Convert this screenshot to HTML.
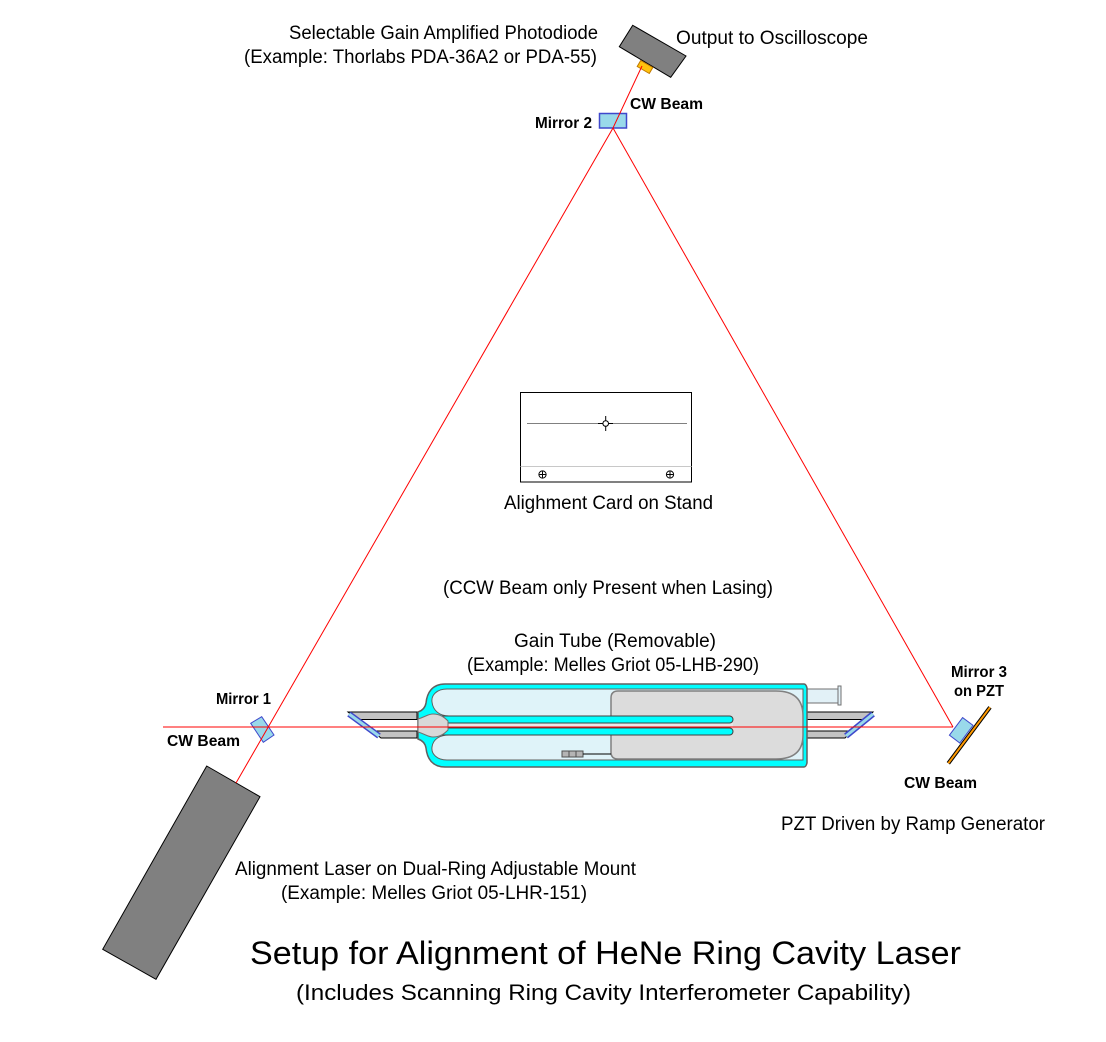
<!DOCTYPE html>
<html>
<head>
<meta charset="utf-8">
<style>
  html,body{margin:0;padding:0;background:#fff;}
  svg{display:block;}
  text{font-family:"Liberation Sans",Arial,sans-serif;fill:#000;}
  .r{font-size:19px;}
  .b{font-size:15.5px;font-weight:bold;}
</style>
</head>
<body>
<svg width="1106" height="1042" viewBox="0 0 1106 1042" xmlns="http://www.w3.org/2000/svg">
  <rect x="0" y="0" width="1106" height="1042" fill="#fff"/>

  <!-- Photodiode -->
  <polygon points="632.7,25.3 686,56 670.7,77.3 619.3,46.7" fill="#808080" stroke="#000" stroke-width="1"/>
  <polygon points="640.7,60.5 652.8,67.5 649.3,73.5 637.2,66.5" fill="#ffc20e" stroke="#c07800" stroke-width="1"/>

  <!-- Mirror 2 -->
  <rect x="599.5" y="113.5" width="27" height="14.5" fill="#99d9ea" stroke="#3f48cc" stroke-width="1.5"/>

  <!-- Alignment card -->
  <rect x="520.5" y="392.5" width="171" height="89.5" fill="#fff" stroke="#000" stroke-width="1"/>
  <line x1="527" y1="423.5" x2="687" y2="423.5" stroke="#808080" stroke-width="1"/>
  <line x1="520.5" y1="466.5" x2="691.5" y2="466.5" stroke="#c8c8c8" stroke-width="1"/>
  <line x1="598" y1="423.5" x2="613" y2="423.5" stroke="#000" stroke-width="1"/>
  <line x1="605.7" y1="416" x2="605.7" y2="431" stroke="#000" stroke-width="1"/>
  <circle cx="605.7" cy="423.5" r="2.8" fill="#fff" stroke="#000" stroke-width="1"/>
  <circle cx="542.5" cy="474.5" r="3.6" fill="#fff" stroke="#000" stroke-width="1"/>
  <line x1="539.5" y1="474.5" x2="545.5" y2="474.5" stroke="#000" stroke-width="1"/>
  <line x1="542.5" y1="471.5" x2="542.5" y2="477.5" stroke="#000" stroke-width="1"/>
  <circle cx="670" cy="474.5" r="3.6" fill="#fff" stroke="#000" stroke-width="1"/>
  <line x1="667" y1="474.5" x2="673" y2="474.5" stroke="#000" stroke-width="1"/>
  <line x1="670" y1="471.5" x2="670" y2="477.5" stroke="#000" stroke-width="1"/>

  <!-- Gain tube: window arms -->
  <polygon points="348,712 417,712 417,719.5 357,719.5" fill="#c3c3c3" stroke="#000" stroke-width="1"/>
  <polygon points="372,731 417,731 417,738 381,738" fill="#c3c3c3" stroke="#000" stroke-width="1"/>
  <polygon points="807,712 873,712 866,719.5 807,719.5" fill="#c3c3c3" stroke="#000" stroke-width="1"/>
  <polygon points="807,731 852,731 845,738 807,738" fill="#c3c3c3" stroke="#000" stroke-width="1"/>

  <!-- fill tube -->
  <rect x="806" y="689" width="33" height="14" fill="#e2f1f7" stroke="#707070" stroke-width="1"/>
  <rect x="838" y="686" width="3" height="19" fill="#e2f1f7" stroke="#707070" stroke-width="1"/>

  <!-- envelope -->
  <path d="M445,684 L804,684 Q806,684 807,688 L807,763 Q806,767 804,767 L445,767 C432,767 427,758 426,748 C425,742 421,740 418,739 L418,712 C421,711 425,709 426,703 C427,693 432,684 445,684 Z"
        fill="#00ffff" stroke="#606060" stroke-width="1.5"/>
  <!-- inner lobes -->
  <path d="M803,689 L447,689 C437,689 431,695 432,702 C433,711 440,716 449,716 L803,716 Z" fill="#dff3f9" stroke="#606060" stroke-width="1"/>
  <path d="M803,760 L447,760 C437,760 431,754 432,747 C433,739 440,735 449,735 L803,735 Z" fill="#dff3f9" stroke="#606060" stroke-width="1"/>

  <!-- cathode -->
  <path d="M618,691 L776,691 Q803,691 803,716 L803,735 Q803,759 776,759 L618,759 Q611,759 611,752 L611,698 Q611,691 618,691 Z"
        fill="#dcdcdc" stroke="#808080" stroke-width="1.5"/>

  <!-- bore -->
  <rect x="440" y="723" width="293" height="5" fill="#e8e8e8"/>
  <path d="M440,716 H729.5 A3.5,3.5 0 0 1 729.5,723 H440 Z" fill="#00ffff" stroke="#404040" stroke-width="1"/>
  <path d="M440,728 H729.5 A3.5,3.5 0 0 1 729.5,735 H440 Z" fill="#00ffff" stroke="#404040" stroke-width="1"/>

  <!-- left bore end blob -->
  <path d="M418,719 C425,717 428,714 433,714 C440,714 444,717 448,721 L448,730 C444,734 440,737 433,737 C428,737 425,734 418,732 Z"
        fill="#d8d8d8" stroke="#707070" stroke-width="1"/>

  <!-- getter and wire -->
  <rect x="562" y="751" width="7" height="6" fill="#b4b4b4" stroke="#505050" stroke-width="1"/>
  <rect x="569" y="751" width="7" height="6" fill="#b4b4b4" stroke="#505050" stroke-width="1"/>
  <rect x="576" y="751" width="7" height="6" fill="#b4b4b4" stroke="#505050" stroke-width="1"/>
  <line x1="583" y1="754" x2="611" y2="754" stroke="#000" stroke-width="1"/>

  <!-- Brewster windows -->
  <line x1="349" y1="714" x2="379" y2="736" stroke="#3f48cc" stroke-width="6"/>
  <line x1="349" y1="714" x2="379" y2="736" stroke="#99d9ea" stroke-width="3"/>
  <line x1="873" y1="714" x2="846" y2="736" stroke="#3f48cc" stroke-width="6"/>
  <line x1="873" y1="714" x2="846" y2="736" stroke="#99d9ea" stroke-width="3"/>

  <!-- Mirror 1 -->
  <polygon points="250.7,723.3 261.7,716.7 274,735 263.3,742.3" fill="#99d9ea" stroke="#3f48cc" stroke-width="1"/>

  <!-- Mirror 3 + PZT -->
  <line x1="990" y1="707.3" x2="948.3" y2="763.3" stroke="#000" stroke-width="4"/>
  <line x1="990" y1="707.3" x2="948.3" y2="763.3" stroke="#ff9900" stroke-width="2"/>
  <polygon points="949.4,735.2 962.6,717.6 973,725.4 959.8,743" fill="#99d9ea" stroke="#3f48cc" stroke-width="1"/>

  <!-- Alignment laser -->
  <polygon points="206.7,766 260,796.7 156,979.3 102.7,949.3" fill="#808080" stroke="#000" stroke-width="1"/>

  <!-- Beams -->
  <g stroke="#ff0000" stroke-width="1" fill="none">
    <line x1="163" y1="727" x2="953" y2="727"/>
    <line x1="613" y1="128" x2="236" y2="783"/>
    <line x1="613" y1="128" x2="953" y2="727"/>
    <line x1="613" y1="128" x2="642" y2="66"/>
  </g>

  <!-- Labels -->
  <text class="r" x="289" y="39" textLength="309" lengthAdjust="spacingAndGlyphs">Selectable Gain Amplified Photodiode</text>
  <text class="r" x="244" y="63" textLength="353" lengthAdjust="spacingAndGlyphs">(Example: Thorlabs PDA-36A2 or PDA-55)</text>
  <text class="r" x="676" y="44" textLength="192" lengthAdjust="spacingAndGlyphs">Output to Oscilloscope</text>
  <text class="b" x="630" y="109" textLength="73" lengthAdjust="spacingAndGlyphs">CW Beam</text>
  <text class="b" x="535" y="128" textLength="57" lengthAdjust="spacingAndGlyphs">Mirror 2</text>
  <text class="r" x="504" y="509" textLength="209" lengthAdjust="spacingAndGlyphs">Alighment Card on Stand</text>
  <text class="r" x="443" y="594" textLength="330" lengthAdjust="spacingAndGlyphs">(CCW Beam only Present when Lasing)</text>
  <text class="r" x="514" y="647" textLength="202" lengthAdjust="spacingAndGlyphs">Gain Tube (Removable)</text>
  <text class="r" x="467" y="671" textLength="292" lengthAdjust="spacingAndGlyphs">(Example: Melles Griot 05-LHB-290)</text>
  <text class="b" x="216" y="704" textLength="55" lengthAdjust="spacingAndGlyphs">Mirror 1</text>
  <text class="b" x="167" y="746" textLength="73" lengthAdjust="spacingAndGlyphs">CW Beam</text>
  <text class="b" x="951" y="677" textLength="56" lengthAdjust="spacingAndGlyphs">Mirror 3</text>
  <text class="b" x="954" y="696" textLength="50" lengthAdjust="spacingAndGlyphs">on PZT</text>
  <text class="b" x="904" y="788" textLength="73" lengthAdjust="spacingAndGlyphs">CW Beam</text>
  <text class="r" x="781" y="830" textLength="264" lengthAdjust="spacingAndGlyphs">PZT Driven by Ramp Generator</text>
  <text class="r" x="235" y="875" textLength="401" lengthAdjust="spacingAndGlyphs">Alignment Laser on Dual-Ring Adjustable Mount</text>
  <text class="r" x="281" y="899" textLength="306" lengthAdjust="spacingAndGlyphs">(Example: Melles Griot 05-LHR-151)</text>
  <text x="250" y="964" font-size="32" textLength="711" lengthAdjust="spacingAndGlyphs">Setup for Alignment of HeNe Ring Cavity Laser</text>
  <text x="296" y="1000" font-size="22" textLength="615" lengthAdjust="spacingAndGlyphs">(Includes Scanning Ring Cavity Interferometer Capability)</text>
</svg>
</body>
</html>
